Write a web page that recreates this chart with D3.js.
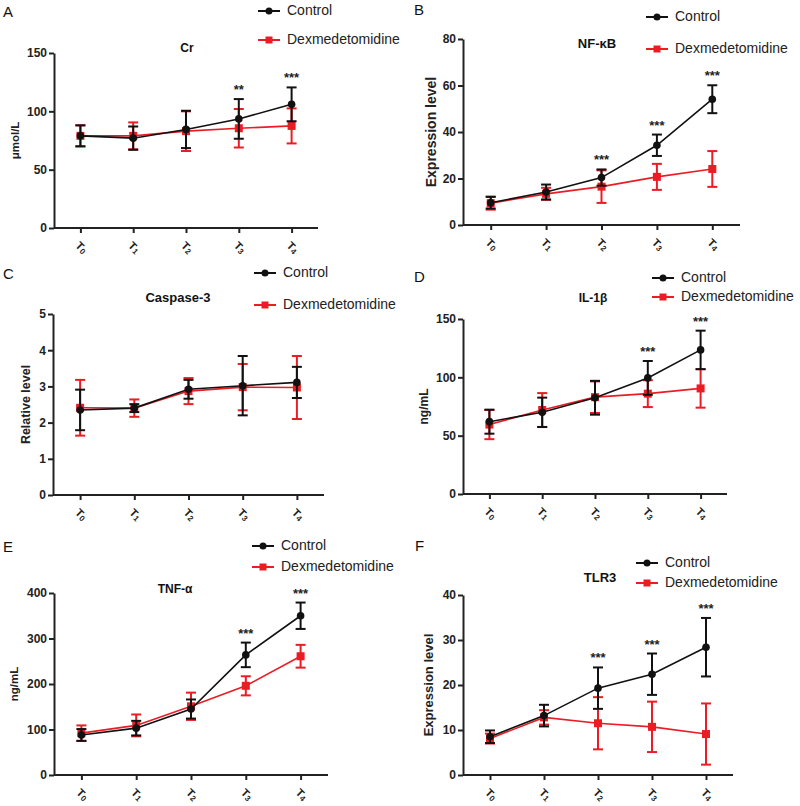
<!DOCTYPE html>
<html><head><meta charset="utf-8">
<script src="https://cdn.jsdelivr.net/npm/d3@7"></script>
<style>
html,body{margin:0;padding:0;background:#fff;}
svg{display:block;font-family:"Liberation Sans",Arial,sans-serif;}
</style></head>
<body>
<svg id="chart" width="800" height="806"></svg>
<script>
// ---- data ----
const timepoints = ["T0","T1","T2","T3","T4"];
const seriesNames = ["Control","Dexmedetomidine"];

const crControl   = [79, 77, 84.5, 93.5, 106];
const crControlSD = [9, 10, 16, 17, 14.5];
const crDex       = [79, 79, 83, 85.5, 87.5];
const crDexSD     = [9, 11.5, 17, 16.5, 15];
const crStars     = ["", "", "", "**", "***"];

const nfkbControl   = [9.6, 14.2, 20.4, 34.3, 54.1];
const nfkbControlSD = [2.5, 3.2, 3.5, 4.6, 6];
const nfkbDex       = [9.4, 13.4, 16.5, 20.7, 24.1];
const nfkbDexSD     = [2.8, 2.6, 7, 5.6, 7.7];
const nfkbStars     = ["", "", "***", "***", "***"];

const casControl   = [2.35, 2.4, 2.92, 3.02, 3.11];
const casControlSD = [0.56, 0.11, 0.26, 0.82, 0.43];
const casDex       = [2.41, 2.4, 2.87, 2.98, 2.97];
const casDexSD     = [0.77, 0.24, 0.36, 0.64, 0.87];
const casStars     = ["", "", "", "", ""];

const il1bControl   = [62, 70, 82.5, 99.5, 123.5];
const il1bControlSD = [10.3, 12.6, 14.5, 14.5, 16.5];
const il1bDex       = [59.5, 72, 83, 86, 90.5];
const il1bDexSD     = [12.5, 14.5, 13.5, 11.5, 16.5];
const il1bStars     = ["", "", "", "***", "***"];

const tnfControl   = [88, 103, 145, 264, 350];
const tnfControlSD = [13, 16, 21, 27, 29];
const tnfDex       = [92, 109, 151, 196, 261];
const tnfDexSD     = [17, 24, 30, 21, 25];
const tnfStars     = ["", "", "", "***", "***"];

const tlrControl   = [8.5, 13.2, 19.3, 22.4, 28.4];
const tlrControlSD = [1.4, 2.4, 4.6, 4.6, 6.5];
const tlrDex       = [8.1, 12.8, 11.5, 10.7, 9.1];
const tlrDexSD     = [1.1, 1.6, 5.8, 5.6, 6.8];
const tlrStars     = ["", "", "***", "***", "***"];

const crTicks   = [0, 50, 100, 150];
const nfkbTicks = [0, 20, 40, 60, 80];
const casTicks  = [0, 1, 2, 3, 4, 5];
const il1bTicks = [0, 50, 100, 150];
const tnfTicks  = [0, 100, 200, 300, 400];
const tlrTicks  = [0, 10, 20, 30, 40];

// ---- layout ----
const RED = "#ec1c24", BLACK = "#111";
const FONT = "'Liberation Sans',Arial,sans-serif";
const svg = d3.select("#chart");

const panels = [
  {letter:"A", lx:3, ly:17, title:"Cr", tx:187, ty:52, tfs:12, ylabel:"\u03bcmol/L", ylx:16, yfs:11.5,
   x0:54, x1:318, yTop:53, yBot:228, ymax:150, ticks:crTicks,
   ctrl:crControl, ctrlSD:crControlSD, dex:crDex, dexSD:crDexSD, stars:crStars,
   leg:{x:258, y1:11, y2:40}},
  {letter:"B", lx:414, ly:15, title:"NF-\u03baB", tx:597, ty:48, tfs:13, ylabel:"Expression level", ylx:432, yfs:14,
   x0:463, x1:740, yTop:39, yBot:225, ymax:80, ticks:nfkbTicks,
   ctrl:nfkbControl, ctrlSD:nfkbControlSD, dex:nfkbDex, dexSD:nfkbDexSD, stars:nfkbStars,
   leg:{x:646, y1:17, y2:49}},
  {letter:"C", lx:3, ly:279, title:"Caspase-3", tx:178, ty:302, tfs:13, ylabel:"Relative level", ylx:27, yfs:12.5,
   x0:53, x1:324, yTop:314, yBot:495, ymax:5, ticks:casTicks,
   ctrl:casControl, ctrlSD:casControlSD, dex:casDex, dexSD:casDexSD, stars:casStars,
   leg:{x:254, y1:273, y2:305}},
  {letter:"D", lx:414, ly:282, title:"IL-1\u03b2", tx:593, ty:302, tfs:12, ylabel:"ng/mL", ylx:425, yfs:12,
   x0:463, x1:727, yTop:319, yBot:494, ymax:150, ticks:il1bTicks,
   ctrl:il1bControl, ctrlSD:il1bControlSD, dex:il1bDex, dexSD:il1bDexSD, stars:il1bStars,
   leg:{x:652, y1:278, y2:297}},
  {letter:"E", lx:3, ly:552, title:"TNF-\u03b1", tx:175, ty:593, tfs:12, ylabel:"ng/mL", ylx:15, yfs:11.5,
   x0:54, x1:328, yTop:593, yBot:775, ymax:400, ticks:tnfTicks,
   ctrl:tnfControl, ctrlSD:tnfControlSD, dex:tnfDex, dexSD:tnfDexSD, stars:tnfStars,
   leg:{x:252, y1:546, y2:567}},
  {letter:"F", lx:415, ly:551, title:"TLR3", tx:600, ty:582, tfs:13, ylabel:"Expression level", ylx:430, yfs:13,
   x0:463, x1:733, yTop:595, yBot:775, ymax:40, ticks:tlrTicks,
   ctrl:tlrControl, ctrlSD:tlrControlSD, dex:tlrDex, dexSD:tlrDexSD, stars:tlrStars,
   leg:{x:636, y1:563, y2:583}}
];

panels.forEach(p => {
  const g = svg.append("g");
  const x = d3.scalePoint().domain(timepoints).range([p.x0, p.x1]).padding(0.5);
  const y = d3.scaleLinear().domain([0, p.ymax]).range([p.yBot, p.yTop]);

  // panel letter
  g.append("text").attr("x", p.lx).attr("y", p.ly).attr("font-size", 15)
    .attr("font-family", FONT).attr("fill", "#111").text(p.letter);

  // title
  g.append("text").attr("x", p.tx).attr("y", p.ty).attr("text-anchor", "middle")
    .attr("font-size", p.tfs).attr("font-weight", "bold").attr("font-family", FONT)
    .attr("fill", "#111").text(p.title);

  // y axis
  const ya = g.append("g").attr("transform", `translate(${p.x0},0)`)
    .call(d3.axisLeft(y).tickValues(p.ticks).tickFormat(d3.format("~g"))
      .tickSize(5).tickSizeOuter(0).tickPadding(2));
  ya.select(".domain").attr("stroke", "#222").attr("stroke-width", 2);
  ya.selectAll(".tick line").attr("stroke", "#222").attr("stroke-width", 2);
  ya.selectAll(".tick text").attr("font-size", 12).attr("font-weight", "bold")
    .attr("font-family", FONT).attr("fill", "#222");

  // x axis
  const xa = g.append("g").attr("transform", `translate(0,${p.yBot})`)
    .call(d3.axisBottom(x).tickSize(5).tickSizeOuter(0));
  xa.select(".domain").attr("stroke", "#222").attr("stroke-width", 2)
    .attr("d", `M${p.x0},0H${p.x1}`);
  xa.selectAll(".tick line").attr("stroke", "#222").attr("stroke-width", 2);
  xa.selectAll(".tick text").each(function(d) {
    const t = d3.select(this);
    t.text(null).attr("y", 0).attr("dy", null)
      .attr("transform", "translate(0,20) rotate(45)")
      .attr("text-anchor", "middle").attr("dominant-baseline", "middle")
      .attr("font-weight", "bold").attr("font-family", FONT).attr("fill", "#222");
    t.append("tspan").attr("font-size", 11).text(d.charAt(0));
    t.append("tspan").attr("font-size", 8).attr("dy", 2).text(d.slice(1));
  });

  // y label
  g.append("text")
    .attr("transform", `translate(${p.ylx},${(p.yTop + p.yBot) / 2}) rotate(-90)`)
    .attr("text-anchor", "middle").attr("dominant-baseline", "middle")
    .attr("font-size", p.yfs).attr("font-weight", "bold").attr("font-family", FONT)
    .attr("fill", "#222").text(p.ylabel);

  // series: red first, black over it
  const series = [
    {vals:p.dex, sd:p.dexSD, color:RED, shape:"square"},
    {vals:p.ctrl, sd:p.ctrlSD, color:BLACK, shape:"circle"}
  ];
  series.forEach(s => {
    const pts = timepoints.map((t, i) => ({t, v:s.vals[i], e:s.sd[i]}));
    const sg = g.append("g");
    sg.append("path").datum(pts)
      .attr("d", d3.line().x(d => x(d.t)).y(d => y(d.v)))
      .attr("fill", "none").attr("stroke", s.color).attr("stroke-width", 1.6);
    const eb = sg.selectAll(".eb").data(pts).enter().append("g");
    eb.append("line").attr("x1", d => x(d.t)).attr("x2", d => x(d.t))
      .attr("y1", d => y(d.v + d.e)).attr("y2", d => y(Math.max(0, d.v - d.e)))
      .attr("stroke", s.color).attr("stroke-width", 2);
    eb.append("line").attr("x1", d => x(d.t) - 5).attr("x2", d => x(d.t) + 5)
      .attr("y1", d => y(d.v + d.e)).attr("y2", d => y(d.v + d.e))
      .attr("stroke", s.color).attr("stroke-width", 2);
    eb.append("line").attr("x1", d => x(d.t) - 5).attr("x2", d => x(d.t) + 5)
      .attr("y1", d => y(Math.max(0, d.v - d.e))).attr("y2", d => y(Math.max(0, d.v - d.e)))
      .attr("stroke", s.color).attr("stroke-width", 2);
    if (s.shape === "circle") {
      sg.selectAll(".pt").data(pts).enter().append("circle")
        .attr("cx", d => x(d.t)).attr("cy", d => y(d.v)).attr("r", 3.8).attr("fill", s.color);
    } else {
      sg.selectAll(".pt").data(pts).enter().append("rect")
        .attr("x", d => x(d.t) - 4).attr("y", d => y(d.v) - 4)
        .attr("width", 8).attr("height", 8).attr("fill", s.color);
    }
  });

  // significance stars
  g.selectAll(".star").data(timepoints.map((t, i) => ({t, s:p.stars[i], top:p.ctrl[i] + p.ctrlSD[i]})))
    .enter().append("text")
    .attr("x", d => x(d.t)).attr("y", d => y(d.top) - 5)
    .attr("text-anchor", "middle").attr("font-size", 13).attr("font-weight", "bold")
    .attr("font-family", FONT).attr("fill", "#222").text(d => d.s);

  // legend
  const lg = g.append("g");
  [[seriesNames[0], BLACK, "circle", p.leg.y1], [seriesNames[1], RED, "square", p.leg.y2]].forEach(([name, c, shape, ly]) => {
    lg.append("line").attr("x1", p.leg.x).attr("x2", p.leg.x + 22).attr("y1", ly).attr("y2", ly)
      .attr("stroke", c).attr("stroke-width", 2);
    if (shape === "circle") lg.append("circle").attr("cx", p.leg.x + 11).attr("cy", ly).attr("r", 3.5).attr("fill", c);
    else lg.append("rect").attr("x", p.leg.x + 7.5).attr("y", ly - 3.5).attr("width", 7).attr("height", 7).attr("fill", c);
    lg.append("text").attr("x", p.leg.x + 29).attr("y", ly).attr("dominant-baseline", "middle")
      .attr("font-size", 14).attr("font-family", FONT).attr("fill", "#222").text(name);
  });
});
</script>
</body></html>
